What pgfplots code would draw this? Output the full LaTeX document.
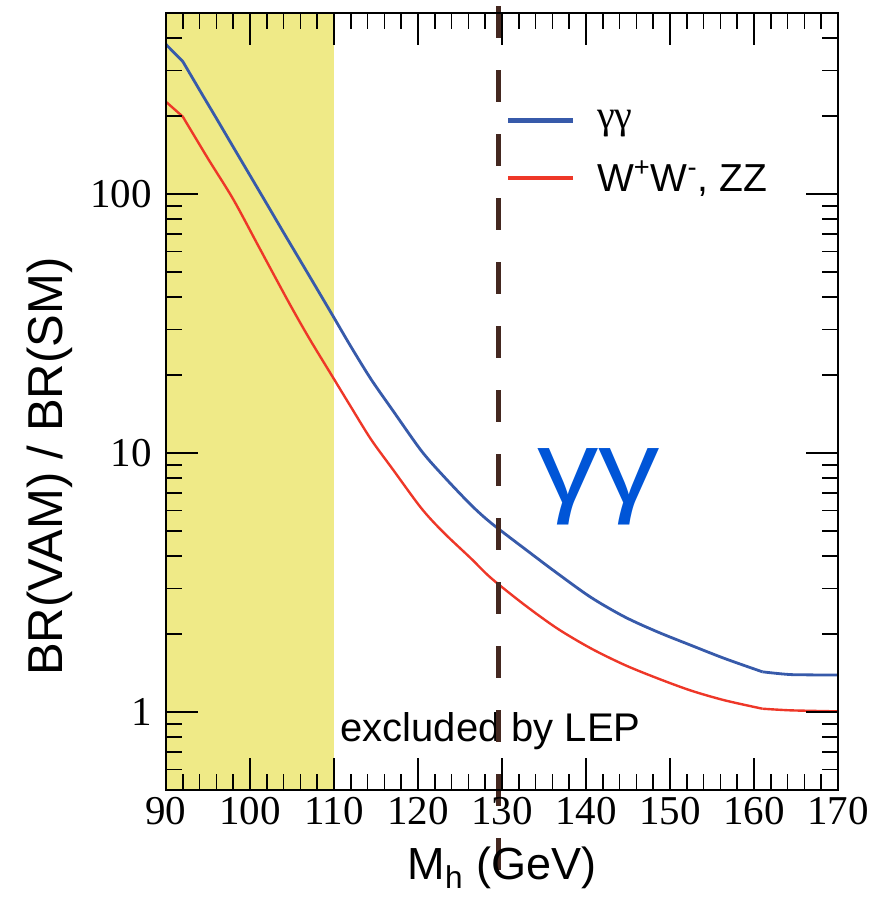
\documentclass[border=0pt]{standalone}
\usepackage{fontspec}
\setmainfont{Liberation Serif}
\newfontfamily\arialf{Liberation Sans}
\usepackage{pgfplots}
\pgfplotsset{compat=1.18}
\definecolor{lineblue}{RGB}{55,90,170}
\definecolor{linered}{RGB}{238,55,40}
\definecolor{lepyellow}{RGB}{239,234,135}
\definecolor{dashbrown}{RGB}{68,40,32}
\definecolor{biggamma}{RGB}{0,85,215}
\begin{document}
\begin{tikzpicture}
\begin{axis}[
  name=ax,
  scale only axis, width=336pt, height=388.5pt,
  xmin=90, xmax=170, ymin=0.5, ymax=500, ymode=log,
  xtick={90,100,...,170},
  minor x tick num=4,
  ytick={1,10,100}, yticklabels={1,10,100},
  minor ytick={0.5,0.6,0.7,0.8,0.9,2,3,4,5,6,7,8,9,20,30,40,50,60,70,80,90,200,300,400},
  tick align=inside,
  major tick length=16pt, minor tick length=8pt,
  every tick/.append style={black, line width=0.8pt},
  axis line style={black, line width=1pt},
  axis on top, clip=false,
  ticklabel style={font=\fontsize{20.5}{21}\selectfont},
  yticklabel style={xshift=-3.5pt},
  /pgf/number format/assume math mode=true,
  legend style={at={(rel axis cs:0.5045,0.876)}, anchor=north west, draw=none, fill=none,
    inner sep=0pt, row sep=14.9pt, column sep=10.5pt, font=\fontsize{20}{22}\selectfont,
    cells={anchor=west}, nodes={inner sep=0pt}},
  legend image code/.code={\draw[#1] (0pt,0pt) -- (32.5pt,0pt);},
]
\addplot[fill=lepyellow, draw=none, forget plot] coordinates {(90,0.5) (90,500) (110,500) (110,0.5)} -- cycle;

% gamma gamma
\addplot[lineblue, line width=1.4pt, forget plot] coordinates {(90,378) (92,325)};
\addplot[lineblue, line width=1.4pt, smooth, tension=0.5, forget plot] coordinates {
(92,325) (94,252) (96,196) (98,152) (100,118) (102,91.6) (104,71) (106,55.2) (108,42.9)
(110,33.3) (112,25.8) (114.4,19.3) (117,14.6) (120.4,10.2) (123,8.17) (126.3,6.31) (128.7,5.37)
(132.7,4.27) (136.6,3.43) (140.6,2.77) (144.6,2.33) (148.5,2.04) (152.5,1.81) (156.5,1.61) (161,1.43)};
\addplot[lineblue, line width=1.4pt, smooth, tension=0.4, forget plot] coordinates {(161,1.43) (164.4,1.395) (170,1.39)};

% W+W-, ZZ
\addplot[linered, line width=1.2pt, forget plot] coordinates {(90,227) (92,199)};
\addplot[linered, line width=1.2pt, smooth, tension=0.5, forget plot] coordinates {
(92,199) (95,137) (98,95.5) (101,63) (104.5,38.8) (107,27.9) (110,19.3) (112,15.1) (114.4,11.3)
(117,8.65) (120.4,6.12) (123,4.95) (126.3,3.92) (128.7,3.29) (132.7,2.59) (136.6,2.10) (140.6,1.76)
(144.6,1.52) (148.5,1.35) (152.5,1.21) (156.5,1.11) (161,1.03)};
\addplot[linered, line width=1.2pt, smooth, tension=0.4, forget plot] coordinates {(161,1.03) (164.4,1.015) (170,1.006)};

\node[font=\arialf\fontsize{20}{24}\selectfont, anchor=base west, inner sep=0pt] at (rel axis cs:0.259,0.0618) {excluded by LEP};

\addplot[dashbrown, line width=2.8pt, dash pattern=on 16pt off 16pt, forget plot] coordinates {(129.6,531) (129.6,0.2377)};

\node[font=\arialf\fontsize{52}{58}\selectfont, text=biggamma, xscale=1.18] at (rel axis cs:0.644,0.39) {γγ};

\node[font=\arialf\fontsize{22.5}{24}\selectfont, anchor=base] at (rel axis cs:0.5,-0.1158) {M\textsubscript{h} (GeV)};
\node[rotate=90, font=\arialf\fontsize{24.5}{26}\selectfont, anchor=base] at (rel axis cs:-0.1533,0.416) {BR(VAM) / BR(SM)};

\addlegendimage{lineblue, line width=2.8pt}
\addlegendentry{γγ}
\addlegendimage{linered, line width=2pt}
\addlegendentry{\arialf\fontsize{19.5}{21}\selectfont W\textsuperscript{+}W\textsuperscript{-}, ZZ}
\end{axis}
\pgfresetboundingbox
\path ([shift={(-83pt,-55pt)}]ax.south west) rectangle ([shift={(26pt,6.5pt)}]ax.north east);
\end{tikzpicture}
\end{document}
